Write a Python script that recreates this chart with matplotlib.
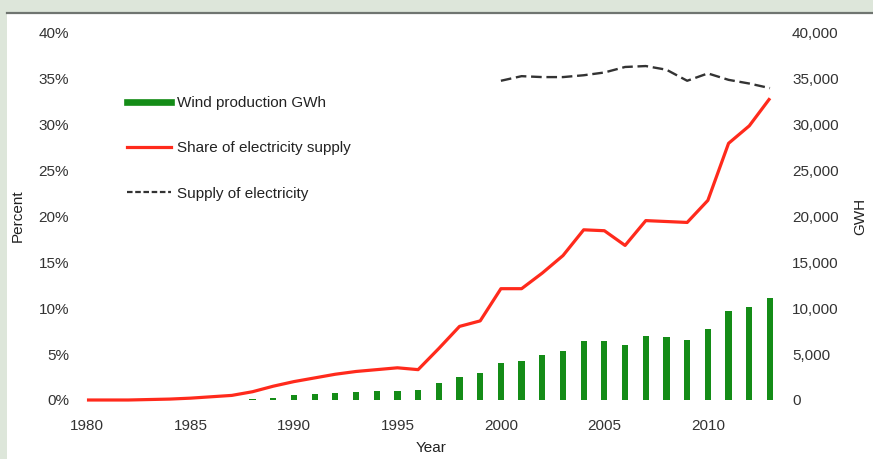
import numpy as np
import matplotlib
matplotlib.use('Agg')
import matplotlib.pyplot as plt
from matplotlib.lines import Line2D
from matplotlib.patches import Rectangle

plt.rcParams['font.family'] = ['Liberation Sans', 'DejaVu Sans']

# wind production, GWh (right axis)
wind_years = list(range(1988, 2014))
wind_gwh = [80, 250, 500, 600, 750, 850, 950, 1000, 1100, 1800, 2500, 2900,
            4000, 4200, 4900, 5300, 6400, 6400, 6000, 7000, 6800, 6500,
            7700, 9700, 10100, 11100]

# wind share of electricity supply, percent (left axis)
share_years = list(range(1980, 2014))
share_pct = [0.0, 0.0, 0.0, 0.05, 0.1, 0.2, 0.35, 0.5, 0.9, 1.5, 2.0, 2.4,
             2.8, 3.1, 3.3, 3.5, 3.3, 5.6, 8.0, 8.6, 12.1, 12.1, 13.8, 15.7,
             18.5, 18.4, 16.8, 19.5, 19.4, 19.3, 21.7, 27.9, 29.8, 32.8]

# total supply of electricity, GWh (right axis)
supply_years = list(range(2000, 2014))
supply_gwh = [34700, 35200, 35100, 35100, 35300, 35600, 36200, 36300, 35900,
              34700, 35500, 34800, 34400, 33900]

pct_ticks = [0, 5, 10, 15, 20, 25, 30, 35, 40]
gwh_ticks = [0, 5000, 10000, 15000, 20000, 25000, 30000, 35000, 40000]
year_ticks = [1980, 1985, 1990, 1995, 2000, 2005, 2010]

green = '#148c17'
red = '#ff2a1c'
fs = 11

fig = plt.figure(figsize=(8.73, 4.59), dpi=100, facecolor='white')

# light frame round the panel
fig.patches.append(Rectangle((0, 1 - 12 / 459), 1, 12 / 459, transform=fig.transFigure,
                             facecolor='#dde6da', edgecolor='none', zorder=0))
fig.patches.append(Rectangle((0, 0), 7 / 873, 1, transform=fig.transFigure,
                             facecolor='#dde6da', edgecolor='none', zorder=0))
fig.lines.append(Line2D([7 / 873, 1], [1 - 12.5 / 459, 1 - 12.5 / 459], transform=fig.transFigure,
                        color='#6f7570', lw=1.6))

ax1 = fig.add_axes([0.0830, 0.1085, 0.8215, 0.8418])
ax2 = ax1.twinx()
ax1.set_zorder(ax2.get_zorder() + 1)
ax1.patch.set_visible(False)

ax2.bar(wind_years, wind_gwh, 0.3, color=green, zorder=2)
ax2.plot(supply_years, supply_gwh, color='#333333', lw=1.7, dashes=(4.5, 2), zorder=3)
ax1.plot(share_years, share_pct, color=red, lw=2.3, solid_capstyle='butt', zorder=4)

ax1.set_xlim(1979.3, 2013.95)
ax1.set_ylim(-1, 41)
ax2.set_ylim(-1000, 41000)

ax1.set_xticks(year_ticks)
ax1.set_yticks(pct_ticks)
ax1.set_yticklabels(['{}%'.format(v) for v in pct_ticks])
ax2.set_yticks(gwh_ticks)
ax2.set_yticklabels(['{:,}'.format(v) for v in gwh_ticks])

for ax in (ax1, ax2):
  for s in ax.spines.values():
    s.set_visible(False)
ax1.tick_params(axis='both', length=0, labelsize=fs, colors='#333333')
ax1.tick_params(axis='y', pad=2.5)
ax1.tick_params(axis='x', pad=7)
ax2.tick_params(axis='y', length=0, labelsize=fs, colors='#333333', pad=1.7)

ax1.set_xlabel('Year', fontsize=fs, color='#222222', labelpad=6)
ax1.set_ylabel('Percent', fontsize=fs, color='#222222')
ax1.yaxis.set_label_coords(-0.066, 0.5)
ax2.set_ylabel('GWH', fontsize=fs, color='#222222')
ax2.yaxis.set_label_coords(1.0886, 0.5)

handles = [Line2D([], [], color=green, lw=4.8),
           Line2D([], [], color=red, lw=2.3),
           Line2D([], [], color='#333333', lw=1.6, dashes=(2.5, 1.2))]
labels = ['Wind production GWh', 'Share of electricity supply', 'Supply of electricity']
ax1.legend(handles, labels, loc='upper left', bbox_to_anchor=(127 / 873, 1 - 96 / 459),
           bbox_transform=fig.transFigure, frameon=False, fontsize=fs, borderpad=0,
           borderaxespad=0, handlelength=2.9, handletextpad=0.4, labelspacing=2.05,
           labelcolor='#222222')

plt.savefig('out.png', dpi=100, facecolor='white')
